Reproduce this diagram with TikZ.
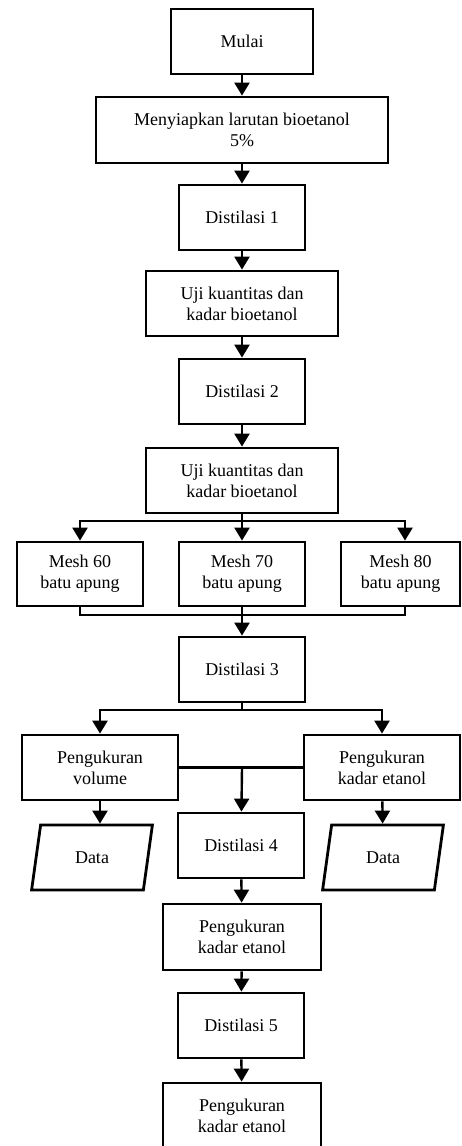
\documentclass[tikz,border=0pt]{standalone}
\usepackage{fontspec}
\setmainfont{Liberation Serif}
\usetikzlibrary{arrows.meta,positioning,shapes.geometric}

\begin{document}
\begin{tikzpicture}[x=1pt,y=-1pt,
every node/.style={draw,line width=2.8pt,align=center,font=\fontsize{18}{21}\selectfont},
kotak/.style={rectangle,minimum width=126pt,minimum height=65pt},
data/.style={trapezium,trapezium left angle=76,trapezium right angle=104,trapezium stretches=true,minimum width=121pt,minimum height=65pt,inner sep=0pt},
panah/.style={-{Triangle[length=13pt,width=15pt]},line width=2.4pt},
garis/.style={line width=2.4pt}]
\useasboundingbox (0,0) rectangle (461,1146);
\clip (0,0) rectangle (461,1146);
\node[kotak,minimum width=142pt] (mulai) at (242,41.5) {Mulai};
\node[kotak,minimum width=292pt,minimum height=66pt] (siap) at (242,130) {Menyiapkan larutan bioetanol\\5\%};
\node[kotak] (dist1) at (242,217.5) {Distilasi 1};
\node[kotak,minimum width=192pt] (uji1) at (242,303.5) {Uji kuantitas dan\\kadar bioetanol};
\node[kotak] (dist2) at (242,391.5) {Distilasi 2};
\node[kotak,minimum width=192pt] (uji2) at (242,480.5) {Uji kuantitas dan\\kadar bioetanol};
\node[kotak,minimum height=64pt] (mesh60) at (80,574) {Mesh 60\\batu apung};
\node[kotak,minimum height=64pt] (mesh70) at (242,574) {Mesh 70\\batu apung};
\node[kotak,minimum width=119pt,minimum height=64pt] (mesh80) at (400.5,574) {Mesh 80\\batu apung};
\node[kotak] (dist3) at (242,669.5) {Distilasi 3};
\node[kotak,minimum width=156pt] (pvol) at (100,767.5) {Pengukuran\\volume};
\node[kotak,minimum width=156pt] (pkad) at (382,767.5) {Pengukuran\\kadar etanol};
\node[kotak] (dist4) at (241,845.5) {Distilasi 4};
\node[data] (data1) at (92,857.5) {Data};
\node[data] (data2) at (383,857.5) {Data};
\node[kotak,minimum width=158pt,minimum height=66pt] (pk1) at (242,937) {Pengukuran\\kadar etanol};
\node[kotak] (dist5) at (241,1025.5) {Distilasi 5};
\node[kotak,minimum width=158pt] (pk2) at (242,1115.5) {Pengukuran\\kadar etanol};
\coordinate (cab1) at (242,521);
\coordinate (gab1) at (242,615);
\coordinate (cab2) at (242,710);
\coordinate (tengah) at (242,768);
\draw[panah] (mulai) -- (siap);
\draw[panah] (siap) -- (dist1);
\draw[panah] (dist1) -- (uji1);
\draw[panah] (uji1) -- (dist2);
\draw[panah] (dist2) -- (uji2);
\draw[garis] (uji2) -- (cab1);
\draw[panah] (cab1) -| (mesh60.north);
\draw[panah] (cab1) -- (mesh70);
\draw[panah] (cab1) -| ([xshift=4.5pt]mesh80.north);
\draw[garis] (mesh60.south) |- (gab1);
\draw[garis] ([xshift=4.5pt]mesh80.south) |- (gab1);
\draw[panah] (mesh70) -- (dist3);
\draw[garis] (dist3) -- (cab2);
\draw[panah] (cab2) -| (pvol.north);
\draw[panah] (cab2) -| (pkad.north);
\draw[garis] (pvol) -- (pkad);
\draw[panah] (tengah) -- (dist4);
\draw[panah] (pvol.south) -- (pvol.south |- data1.north);
\draw[panah] (pkad) -- (data2);
\draw[panah] (dist4) -- (pk1);
\draw[panah] (pk1) -- (dist5);
\draw[panah] (dist5) -- (pk2);
\end{tikzpicture}
\end{document}
